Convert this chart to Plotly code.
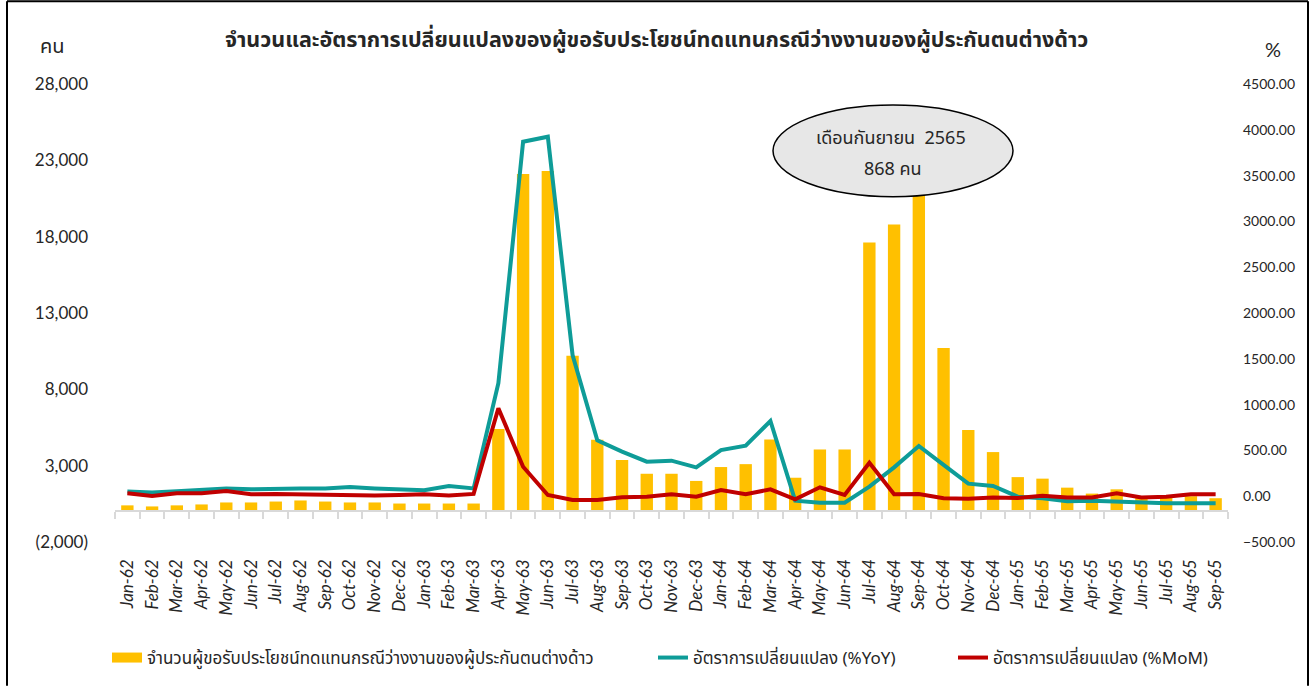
import plotly.graph_objects as go

months = ["Jan", "Feb", "Mar", "Apr", "May", "Jun", "Jul", "Aug", "Sep", "Oct", "Nov", "Dec"]
categories = [f"{m}-{y}" for y in ["62", "63", "64", "65"] for m in months][:45]

claimants = [400, 330, 400, 460, 590, 590, 650, 720, 650, 590, 590, 520,
             520, 520, 520, 5400, 22100, 22300, 10200, 4700, 3370, 2470, 2470, 2000,
             2910, 3100, 4720, 2210, 4060, 4060, 17620, 18790, 21300, 10710, 5330, 3890,
             2250, 2150, 1560, 1170, 1450, 1000, 900, 1000, 868]

yoy = [50, 40, 55, 65, 85, 75, 85, 85, 85, 100, 85, 70,
       65, 110, 85, 1233, 3870, 3925, 1541, 610, 486, 377, 388, 315,
       504, 551, 821, -49, -71, -71, 104, 315, 548, 341, 137, 111,
       -5, -23, -56, -49, -60, -64, -78, -78, -78]

mom = [32, 2, 32, 32, 57, 21, 25, 21, 13, 2, 7, 13,
       21, 7, 25, 960, 322, 13, -41, -41, -12, -5, 21, -5,
       68, 21, 75, -34, 97, 13, 366, 21, 24, -23, -27, -14,
       -20, 5, -14, -14, 32, -14, -5, 21, 21]

left_ticks = [-2000, 3000, 8000, 13000, 18000, 23000, 28000]
left_ticktext = ["(2,000)", "3,000", "8,000", "13,000", "18,000", "23,000", "28,000"]
right_ticks = [-500, 0, 500, 1000, 1500, 2000, 2500, 3000, 3500, 4000, 4500]

title_text = "จำนวนและอัตราการเปลี่ยนแปลงของผู้ขอรับประโยชน์ทดแทนกรณีว่างงานของผู้ประกันตนต่างด้าว"
bar_name = "จำนวนผู้ขอรับประโยชน์ทดแทนกรณีว่างงานของผู้ประกันตนต่างด้าว"
yoy_name = "อัตราการเปลี่ยนแปลง (%YoY)"
mom_name = "อัตราการเปลี่ยนแปลง (%MoM)"

BAR_COLOR = "#FFC000"

W, H = 1313, 687
ML, MR, MT, MB = 115, 85, 84, 144
PW, PH = W - ML - MR, H - MT - MB

def px_x(x):
    return (x - ML) / PW

def px_y(y):
    return (H - MB - y) / PH

FONT = "Lato, 'Noto Sans', 'DejaVu Sans', sans-serif"
THAI = "Tahoma, 'Noto Sans Thai', 'DejaVu Sans', sans-serif"

fig = go.Figure()
fig.add_trace(go.Bar(x=categories, y=claimants, name=bar_name, marker_color=BAR_COLOR,
                     marker_line_width=0, yaxis="y", showlegend=False))
# legend entry for the bars drawn as a wide swatch (as in the original chart)
fig.add_trace(go.Scatter(x=[None], y=[None], name=bar_name, mode="lines",
                         line=dict(color=BAR_COLOR, width=14), yaxis="y", legend="legend",
                         hoverinfo="skip"))
fig.add_trace(go.Scatter(x=categories, y=yoy, name=yoy_name, mode="lines",
                         line=dict(color="#0E9C98", width=4), yaxis="y2", legend="legend2"))
fig.add_trace(go.Scatter(x=categories, y=mom, name=mom_name, mode="lines",
                         line=dict(color="#C00000", width=4), yaxis="y2", legend="legend3"))

ymin, ymax = left_ticks[0], left_ticks[-1]

leg_font = dict(size=17, family=THAI, color="#262626")
fig.update_layout(
    width=W, height=H,
    margin=dict(l=ML, r=MR, t=MT, b=MB),
    plot_bgcolor="white", paper_bgcolor="white",
    bargap=0.5,
    showlegend=True,
    font=dict(family=FONT, color="#262626"),
    xaxis=dict(
        type="category", anchor="free", position=(0 - ymin) / (ymax - ymin),
        showline=True, linecolor="#D9D9D9", linewidth=2,
        ticks="outside", tickson="boundaries", ticklen=7, tickcolor="#D9D9D9", tickwidth=2,
        tickangle=-90, ticklabelstandoff=40,
        tickfont=dict(size=17, family=FONT, style="italic", color="#262626"),
        showgrid=False, range=[-0.5, len(categories) - 0.5],
    ),
    yaxis=dict(
        range=[ymin, ymax], tickvals=left_ticks, ticktext=left_ticktext,
        showgrid=False, zeroline=False, showline=False, ticks="",
        tickfont=dict(size=17, family=FONT, color="#262626"), ticklabelstandoff=26,
    ),
    yaxis2=dict(
        range=[right_ticks[0], right_ticks[-1]], tickvals=right_ticks, tickformat=".2f",
        overlaying="y", side="right", showgrid=False, zeroline=False, showline=False, ticks="",
        tickfont=dict(size=14, family=FONT, color="#262626"), ticklabelstandoff=14,
    ),
    legend=dict(orientation="h", x=px_x(107), y=px_y(658), xanchor="left", yanchor="middle",
                font=leg_font, bgcolor="rgba(0,0,0,0)"),
    legend2=dict(orientation="h", x=px_x(653), y=px_y(658), xanchor="left", yanchor="middle",
                 font=leg_font, bgcolor="rgba(0,0,0,0)"),
    legend3=dict(orientation="h", x=px_x(953), y=px_y(658), xanchor="left", yanchor="middle",
                 font=leg_font, bgcolor="rgba(0,0,0,0)"),
)

# outer frame (top, left, right edges)
frame = dict(xref="paper", yref="paper", line=dict(color="black", width=2), layer="below")
fig.add_shape(type="line", x0=px_x(7), x1=px_x(1308), y0=px_y(1), y1=px_y(1), **frame)
fig.add_shape(type="line", x0=px_x(7), x1=px_x(7), y0=px_y(1), y1=px_y(687), **frame)
fig.add_shape(type="line", x0=px_x(1308), x1=px_x(1308), y0=px_y(1), y1=px_y(687), **frame)

# callout ellipse
fig.add_shape(type="circle", xref="paper", yref="paper",
              x0=px_x(773), x1=px_x(1013), y0=px_y(197), y1=px_y(105),
              line=dict(color="black", width=1.5), fillcolor="#E7E7E7", layer="above")

annotations = [
    dict(text="<b>" + title_text + "</b>", x=px_x(656), y=px_y(40), size=21.5, family=THAI),
    dict(text="คน", x=px_x(52), y=px_y(47), size=20, family=THAI),
    dict(text="%", x=px_x(1273), y=px_y(49), size=20, family=FONT),
    dict(text="เดือนกันยายน  2565", x=px_x(891), y=px_y(139), size=18, family=THAI),
    dict(text="868 คน", x=px_x(893), y=px_y(170), size=18, family=THAI),
]
for a in annotations:
    fig.add_annotation(text=a["text"], xref="paper", yref="paper", x=a["x"], y=a["y"],
                       xanchor="center", yanchor="middle", showarrow=False,
                       font=dict(size=a["size"], family=a["family"], color="#262626"))

fig.write_html("out.html", config={"displayModeBar": False},
               post_script="document.body.style.margin='0';document.body.style.overflow='hidden';")
